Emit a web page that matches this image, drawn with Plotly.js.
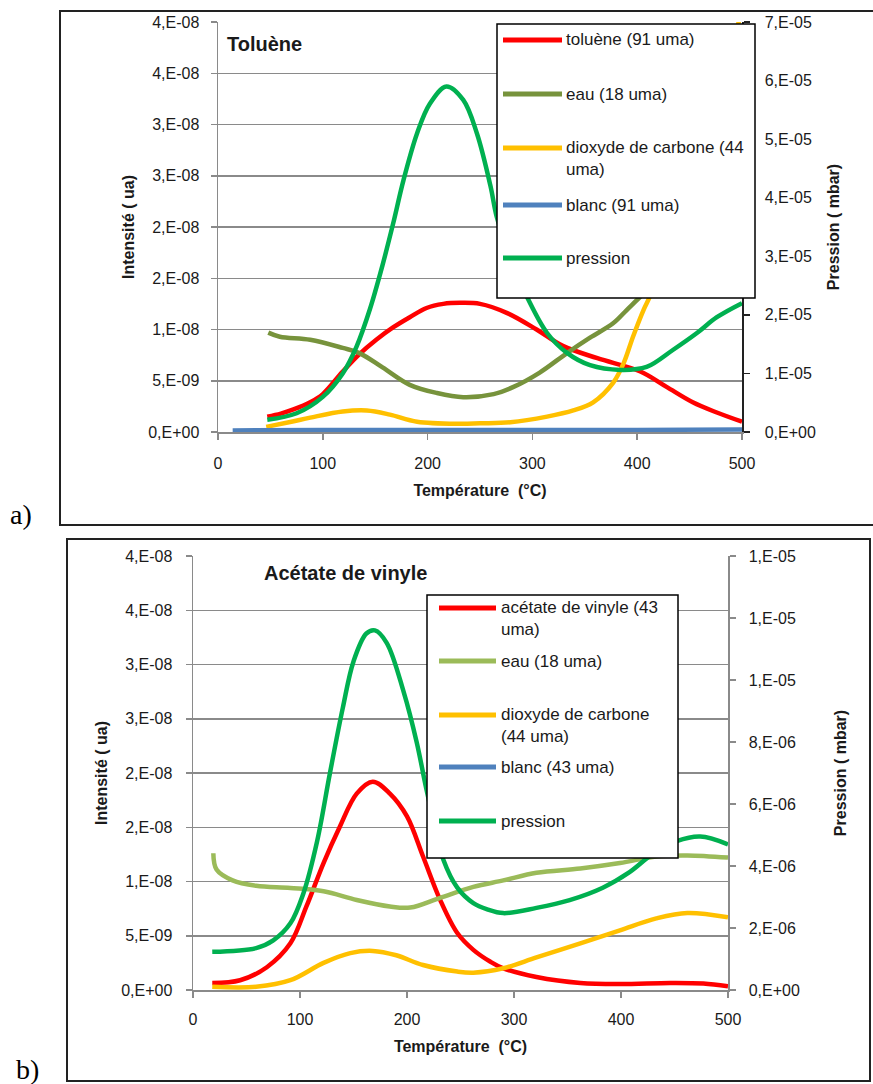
<!DOCTYPE html>
<html>
<head>
<meta charset="utf-8">
<script src="https://cdn.plot.ly/plotly-3.0.1.min.js"></script>
<style>html,body{margin:0;padding:0;background:#fff}#chart{width:873px;height:1084px}</style>
</head>
<body>
<div id="chart"></div>
<script>
// ---------- DATA ----------
// Panel a) Toluène
const tolueneTemp = [47, 60, 72, 88, 100, 119, 135, 151, 167, 183, 199, 215, 231, 250, 276, 304, 329, 362, 403, 428, 453, 476, 500];
const tolueneInt  = [1.5e-9, 1.8e-9, 2.2e-9, 2.9e-9, 3.7e-9, 5.9e-9, 7.6e-9, 9.0e-9, 10.2e-9, 11.2e-9, 12.1e-9, 12.5e-9, 12.6e-9, 12.5e-9, 11.6e-9, 10.0e-9, 8.4e-9, 7.2e-9, 5.9e-9, 4.4e-9, 2.9e-9, 1.9e-9, 1.0e-9];
const eauATemp = [48, 59, 88, 119, 135, 157, 183, 209, 234, 263, 282, 307, 333, 355, 377, 390, 403, 415, 430];
const eauAInt  = [9.7e-9, 9.3e-9, 9.0e-9, 8.2e-9, 7.7e-9, 6.3e-9, 4.6e-9, 3.8e-9, 3.4e-9, 3.7e-9, 4.4e-9, 5.8e-9, 7.7e-9, 9.2e-9, 10.6e-9, 11.9e-9, 13.2e-9, 14.5e-9, 16.0e-9];
const co2ATemp = [46, 70, 88, 119, 142, 164, 190, 231, 250, 279, 314, 339, 358, 377, 387, 396, 406, 412, 425, 450, 475, 500];
const co2AInt  = [0.5e-9, 1.0e-9, 1.4e-9, 2.0e-9, 2.1e-9, 1.7e-9, 1.0e-9, 0.8e-9, 0.85e-9, 0.95e-9, 1.5e-9, 2.1e-9, 2.9e-9, 4.8e-9, 6.7e-9, 9.3e-9, 11.9e-9, 13.2e-9, 17e-9, 25e-9, 33e-9, 41e-9];
const blancATemp = [14, 100, 200, 300, 400, 500];
const blancAInt  = [0.15e-9, 0.2e-9, 0.2e-9, 0.2e-9, 0.2e-9, 0.25e-9];
const pressionATemp = [47, 75, 100, 119, 132, 145, 157, 167, 177, 190, 202, 218, 234, 247, 260, 266, 280, 295, 314, 333, 355, 384, 409, 434, 457, 476, 500];
const pressionAVal  = [0.21e-5, 0.32e-5, 0.6e-5, 1.0e-5, 1.45e-5, 2.1e-5, 2.85e-5, 3.55e-5, 4.3e-5, 5.1e-5, 5.6e-5, 5.9e-5, 5.67e-5, 5.1e-5, 4.2e-5, 3.67e-5, 2.9e-5, 2.3e-5, 1.69e-5, 1.35e-5, 1.14e-5, 1.06e-5, 1.11e-5, 1.4e-5, 1.69e-5, 1.96e-5, 2.2e-5];

// Panel b) Acétate de vinyle
const acetateTemp = [18, 44, 69, 91, 106, 122, 137, 153, 168, 184, 200, 215, 231, 247, 262, 278, 290, 321, 362, 399, 446, 477, 500];
const acetateInt  = [0.65e-9, 0.9e-9, 2.1e-9, 4.3e-9, 7.7e-9, 11.7e-9, 15.0e-9, 18.1e-9, 19.2e-9, 18.1e-9, 16.0e-9, 12.3e-9, 8.3e-9, 5.25e-9, 3.7e-9, 2.6e-9, 2.0e-9, 1.2e-9, 0.65e-9, 0.55e-9, 0.65e-9, 0.6e-9, 0.35e-9];
const eauBTemp = [19, 22, 37, 59, 91, 122, 153, 184, 203, 231, 262, 290, 321, 362, 399, 433, 462, 500];
const eauBInt  = [12.6e-9, 11.1e-9, 10.1e-9, 9.6e-9, 9.4e-9, 9.1e-9, 8.3e-9, 7.7e-9, 7.6e-9, 8.5e-9, 9.5e-9, 10.1e-9, 10.8e-9, 11.2e-9, 11.7e-9, 12.3e-9, 12.4e-9, 12.2e-9];
const co2BTemp = [18, 59, 91, 122, 147, 168, 190, 215, 247, 262, 290, 321, 362, 399, 433, 462, 500];
const co2BInt  = [0.3e-9, 0.3e-9, 0.9e-9, 2.5e-9, 3.4e-9, 3.6e-9, 3.2e-9, 2.3e-9, 1.7e-9, 1.6e-9, 2.0e-9, 3.0e-9, 4.3e-9, 5.5e-9, 6.6e-9, 7.1e-9, 6.7e-9];
const pressionBTemp = [18, 59, 75, 91, 103, 116, 128, 140, 150, 162, 170, 181, 197, 209, 218, 226, 234, 247, 262, 275, 290, 321, 352, 383, 408, 430, 452, 474, 500];
const pressionBVal  = [1.23e-6, 1.35e-6, 1.6e-6, 2.15e-6, 3.1e-6, 4.8e-6, 7.0e-6, 9.1e-6, 10.6e-6, 11.5e-6, 11.6e-6, 11.2e-6, 9.6e-6, 8.0e-6, 6.5e-6, 5.3e-6, 4.2e-6, 3.3e-6, 2.8e-6, 2.6e-6, 2.48e-6, 2.65e-6, 2.9e-6, 3.3e-6, 3.8e-6, 4.4e-6, 4.8e-6, 4.95e-6, 4.7e-6];

// Tick values / labels
const xTickVals = [0, 100, 200, 300, 400, 500];
const intTickVals = [0, 5e-9, 1e-8, 1.5e-8, 2e-8, 2.5e-8, 3e-8, 3.5e-8, 4e-8];
const intTickText = ['0,E+00', '5,E-09', '1,E-08', '2,E-08', '2,E-08', '3,E-08', '3,E-08', '4,E-08', '4,E-08'];
const presATickVals = [0, 1e-5, 2e-5, 3e-5, 4e-5, 5e-5, 6e-5, 7e-5];
const presATickText = ['0,E+00', '1,E-05', '2,E-05', '3,E-05', '4,E-05', '5,E-05', '6,E-05', '7,E-05'];
const presBTickVals = [0, 2e-6, 4e-6, 6e-6, 8e-6, 1e-5, 1.2e-5, 1.4e-5];
const presBTickText = ['0,E+00', '2,E-06', '4,E-06', '6,E-06', '8,E-06', '1,E-05', '1,E-05', '1,E-05'];

// Legend labels
const legendA = ['toluène (91 uma)', 'eau (18 uma)', 'dioxyde de carbone (44<br>uma)', 'blanc (91 uma)', 'pression'];
const legendB = ['acétate de vinyle (43<br>uma)', 'eau (18 uma)', 'dioxyde de carbone<br>(44 uma)', 'blanc (43 uma)', 'pression'];

// ---------- STYLE ----------
const W = 873, H = 1084;
const FONT = 'Liberation Sans, Arial, sans-serif';
const TXT = '#1a1a1a';
const GRID = '#8a8a8a';
const C = {red: '#FF0000', olive: '#77933C', lgreen: '#9BBB59', yellow: '#FFC000', blue: '#4F81BD', green: '#00B050'};
const LW = 4.5;
const px = v => v / W;
const py = v => 1 - v / H;

function tr(x, y, color, xa, ya, name) {
  return {x: x, y: y, type: 'scatter', mode: 'lines', name: name, xaxis: xa, yaxis: ya,
          line: {color: color, width: LW, shape: 'spline', smoothing: 1}, showlegend: false, hoverinfo: 'skip'};
}

const data = [
  tr(tolueneTemp, tolueneInt, C.red, 'x', 'y', 'toluène (91 uma)'),
  tr(eauATemp, eauAInt, C.olive, 'x', 'y', 'eau (18 uma)'),
  tr(co2ATemp, co2AInt, C.yellow, 'x', 'y', 'dioxyde de carbone (44 uma)'),
  tr(blancATemp, blancAInt, C.blue, 'x', 'y', 'blanc (91 uma)'),
  tr(pressionATemp, pressionAVal, C.green, 'x', 'y2', 'pression'),
  tr(acetateTemp, acetateInt, C.red, 'x2', 'y3', 'acétate de vinyle (43 uma)'),
  tr(eauBTemp, eauBInt, C.lgreen, 'x2', 'y3', 'eau (18 uma)'),
  tr(co2BTemp, co2BInt, C.yellow, 'x2', 'y3', 'dioxyde de carbone (44 uma)'),
  tr(pressionBTemp, pressionBVal, C.green, 'x2', 'y4', 'pression')
];

const tickFont = {family: FONT, size: 16, color: TXT};
const titleFont = {family: FONT, size: 16, color: TXT, weight: 'bold'};

function xAxis(domain, anchor, standoff) {
  return {domain: domain, anchor: anchor, range: [0, 500], tickvals: xTickVals, ticks: 'outside', ticklen: 6,
          tickcolor: GRID, tickwidth: 1.5, showline: true, linecolor: GRID, linewidth: 1.5, showgrid: false,
          zeroline: false, tickfont: tickFont, ticklabelstandoff: standoff, automargin: false, fixedrange: true,
          title: {text: 'Température  (°C)', font: titleFont, standoff: 14}};
}
function yLeft(domain, anchor, standoff) {
  return {domain: domain, anchor: anchor, range: [0, 4e-8], tickvals: intTickVals, ticktext: intTickText,
          ticks: 'outside', ticklen: 6, tickcolor: GRID, tickwidth: 1.5, showline: true, linecolor: GRID, linewidth: 1.5,
          showgrid: true, gridcolor: GRID, gridwidth: 1.5, zeroline: false, tickfont: tickFont,
          ticklabelstandoff: standoff, automargin: false, fixedrange: true,
          title: {text: 'Intensité ( ua)', font: titleFont, standoff: 9}};
}
function yRight(overlay, anchor, range, vals, text, lineColor, standoff, tstand) {
  return {overlaying: overlay, anchor: anchor, side: 'right', range: range, tickvals: vals, ticktext: text,
          ticks: 'outside', ticklen: 6, tickcolor: lineColor, tickwidth: 1.5, showline: true, linecolor: lineColor,
          linewidth: 1.5, showgrid: false, zeroline: false, tickfont: tickFont, ticklabelstandoff: standoff,
          automargin: false, fixedrange: true,
          title: {text: 'Pression ( mbar)', font: titleFont, standoff: tstand}};
}

const layout = {
  width: W, height: H, margin: {l: 0, r: 0, t: 0, b: 0}, paper_bgcolor: '#fff', plot_bgcolor: 'rgba(0,0,0,0)',
  showlegend: false, font: {family: FONT, color: TXT},
  xaxis: xAxis([px(218), px(742)], 'y', 10),
  yaxis: yLeft([py(432), py(22)], 'x', 8),
  yaxis2: yRight('y', 'x', [0, 7e-5], presATickVals, presATickText, '#222', 12, 13),
  xaxis2: xAxis([px(193), px(728)], 'y3', 8),
  yaxis3: yLeft([py(990), py(556)], 'x2', 10),
  yaxis4: yRight('y3', 'x2', [0, 1.4e-5], presBTickVals, presBTickText, GRID, 10, 36),
  shapes: [], annotations: []
};

// panel frames
layout.shapes.push({type: 'rect', xref: 'paper', yref: 'paper', x0: px(60), x1: px(880), y0: py(525), y1: py(11),
  line: {color: '#222', width: 2}, fillcolor: 'rgba(0,0,0,0)', layer: 'below'});
layout.shapes.push({type: 'rect', xref: 'paper', yref: 'paper', x0: px(67), x1: px(870), y0: py(1081), y1: py(539),
  line: {color: '#222', width: 2}, fillcolor: 'rgba(0,0,0,0)', layer: 'below'});

// custom legend boxes (drawn over the curves, as in the reference)
function legendBox(box, sample, textX, rows, labels, colors) {
  layout.shapes.push({type: 'rect', xref: 'paper', yref: 'paper', x0: px(box[0]), x1: px(box[1]), y0: py(box[3]), y1: py(box[2]),
    line: {color: '#000', width: 1.5}, fillcolor: '#fff', layer: 'above'});
  labels.forEach((lab, i) => {
    layout.shapes.push({type: 'line', xref: 'paper', yref: 'paper', x0: px(sample[0]), x1: px(sample[1]),
      y0: py(rows[i]), y1: py(rows[i]), line: {color: colors[i], width: 5}, layer: 'above'});
    const two = lab.indexOf('<br>') >= 0;
    layout.annotations.push({xref: 'paper', yref: 'paper', x: px(textX), y: two ? py(rows[i] - 12) : py(rows[i]),
      xanchor: 'left', yanchor: two ? 'top' : 'middle', align: 'left', showarrow: false, text: lab,
      font: {family: FONT, size: 17, color: TXT}});
  });
}
legendBox([497, 755, 24, 298], [503, 562], 564, [40, 94, 148, 205, 258], legendA,
          [C.red, C.olive, C.yellow, C.blue, C.green]);
legendBox([427, 678, 595, 858], [439, 496], 499, [608, 661, 715, 767, 821], legendB,
          [C.red, C.lgreen, C.yellow, C.blue, C.green]);

// chart titles
layout.annotations.push({xref: 'paper', yref: 'paper', x: px(225), y: py(44), xanchor: 'left', yanchor: 'middle',
  showarrow: false, text: '<b>Toluène</b>', font: {family: FONT, size: 20, color: TXT}});
layout.annotations.push({xref: 'paper', yref: 'paper', x: px(262), y: py(573), xanchor: 'left', yanchor: 'middle',
  showarrow: false, text: '<b>Acétate de vinyle</b>', font: {family: FONT, size: 20, color: TXT}});
// panel labels
layout.annotations.push({xref: 'paper', yref: 'paper', x: px(8), y: py(514), xanchor: 'left', yanchor: 'middle',
  showarrow: false, text: 'a)', font: {family: 'Liberation Serif, DejaVu Serif, serif', size: 28, color: '#000'}});
layout.annotations.push({xref: 'paper', yref: 'paper', x: px(14), y: py(1069), xanchor: 'left', yanchor: 'middle',
  showarrow: false, text: 'b)', font: {family: 'Liberation Serif, DejaVu Serif, serif', size: 28, color: '#000'}});

Plotly.newPlot('chart', data, layout, {staticPlot: true, displayModeBar: false});
</script>
</body>
</html>
